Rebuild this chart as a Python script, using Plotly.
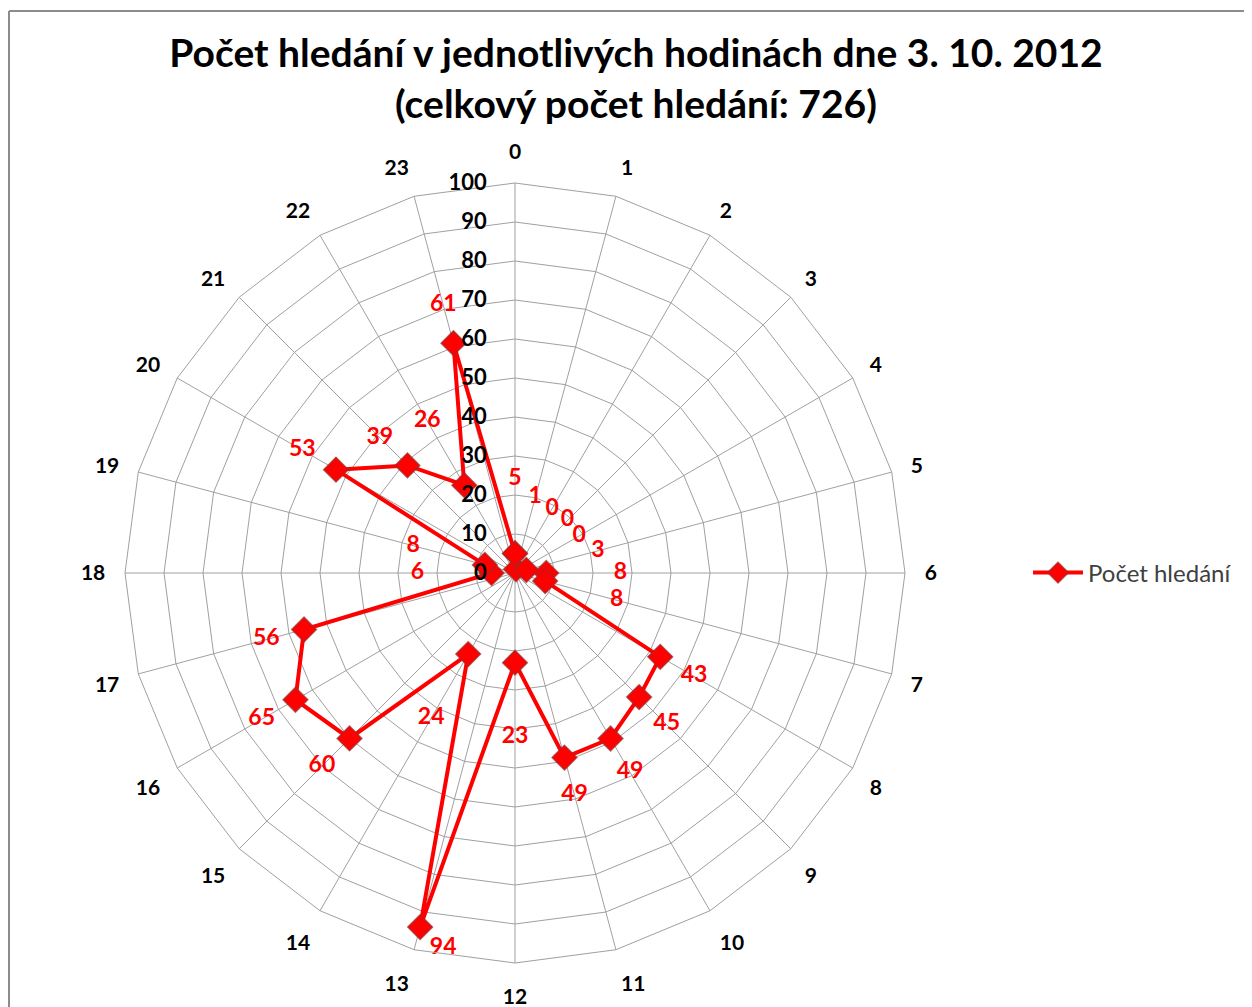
import plotly.graph_objects as go

hours = [str(h) for h in range(24)]
searches = [5, 1, 0, 0, 0, 3, 8, 8, 43, 45, 49, 49, 23, 94, 24, 60, 65, 56, 6, 8, 53, 39, 26, 61]
radial_ticks = list(range(0, 101, 10))

title_text = "Počet hledání v jednotlivých hodinách dne 3. 10. 2012<br>(celkový počet hledání: 726)"
series_name = "Počet hledání"

RED = "#ff0000"
GRID = "#a0a0a0"
FONT = "Lato"

# closed line (Excel radar connects last point to first)
theta_closed = hours + hours[:1]
r_closed = searches + searches[:1]

# label placement: pushed outward from each point by a style offset
label_r = []
label_pos = []
vmax = max(searches)
for v in searches:
    if v == vmax:
        label_r.append(v)
        label_pos.append("bottom right")
    elif v > 30:
        label_r.append(v + 10)
        label_pos.append("middle center")
    else:
        label_r.append(v + 19)
        label_pos.append("middle center")

fig = go.Figure()
fig.add_trace(go.Scatterpolar(
    r=r_closed, theta=theta_closed, name=series_name,
    mode="lines+markers",
    line=dict(color=RED, width=4),
    marker=dict(symbol="diamond", size=19, color=RED,
                line=dict(color="rgba(160,40,40,0.7)", width=1.5)),
    hoverinfo="r+theta",
))
fig.add_trace(go.Scatterpolar(
    r=label_r, theta=hours, mode="markers+text",
    marker=dict(size=14, color="rgba(0,0,0,0)"),
    text=[str(v) for v in searches], textposition=label_pos,
    textfont=dict(family=FONT, size=23, color=RED, weight="bold"),
    showlegend=False, hoverinfo="skip",
))

# page body adds an 8px margin, so layout is expressed relative to that
W, H = 1244, 999
OX, OY = 8, 8


def px(x):
    return (x - OX) / W


def py(y):
    return 1 - (y - OY) / H


fig.update_layout(
    width=W, height=H,
    margin=dict(l=0, r=0, t=0, b=0),
    paper_bgcolor="white",
    font=dict(family=FONT, color="black"),
    title=dict(text=title_text, x=px(636), xanchor="center",
               y=py(67), yanchor="top",
               font=dict(family=FONT, size=39, color="black", weight="bold")),
    showlegend=True,
    legend=dict(x=px(1028), y=py(573), xanchor="left", yanchor="middle",
                font=dict(family=FONT, size=24, color="#404040"),
                itemwidth=50, bgcolor="rgba(0,0,0,0)"),
    polar=dict(
        domain=dict(x=[px(125), px(905)], y=[py(963), py(183)]),
        bgcolor="white",
        gridshape="linear",
        angularaxis=dict(
            type="category", categoryorder="array", categoryarray=hours,
            rotation=90, direction="clockwise",
            showline=True, linecolor=GRID, linewidth=1,
            showgrid=True, gridcolor=GRID, gridwidth=1,
            ticks="outside", ticklen=15, tickcolor="rgba(0,0,0,0)",
            tickfont=dict(family=FONT, size=21, color="black", weight="bold"),
        ),
        radialaxis=dict(
            range=[0, 100], tickvals=radial_ticks, ticktext=[str(t) for t in radial_ticks],
            showline=False, showgrid=True, gridcolor=GRID, gridwidth=1,
            angle=90, side="counterclockwise", tickangle=90,
            ticks="outside", ticklen=20, tickcolor="rgba(0,0,0,0)",
            tickfont=dict(family=FONT, size=22, color="black", weight="bold"),
        ),
    ),
    shapes=[
        dict(type="line", xref="paper", yref="paper",
             x0=px(9), x1=px(9), y0=0, y1=py(11),
             line=dict(color="#8c8c8c", width=2)),
        dict(type="line", xref="paper", yref="paper",
             x0=px(9), x1=1, y0=py(11), y1=py(11),
             line=dict(color="#8c8c8c", width=2)),
    ],
)

fig.write_html("out.html")
